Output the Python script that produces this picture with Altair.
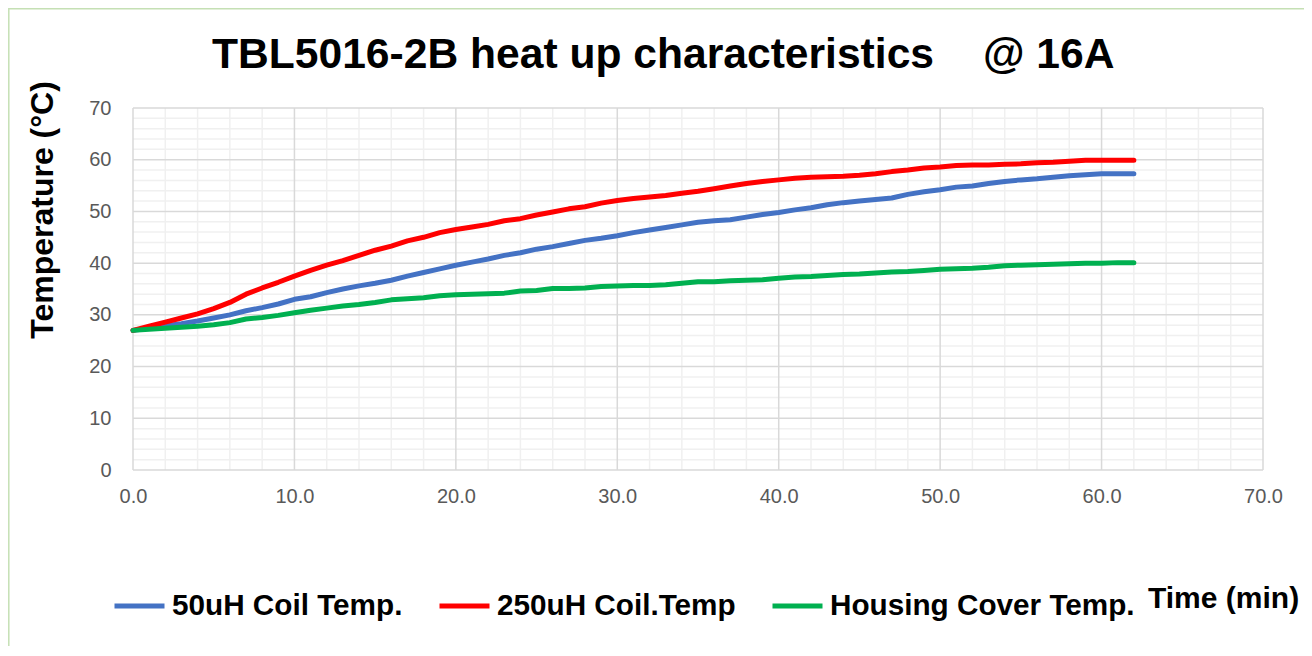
import altair as alt
import pandas as pd
import numpy as np

# ---------------- data ----------------
time_min = list(range(0, 63))

coil_50uH = [27.0, 27.4, 27.9, 28.3, 28.8, 29.4, 30.0, 30.8, 31.4, 32.1,
             33.0, 33.5, 34.3, 35.0, 35.6, 36.1, 36.7, 37.5, 38.2, 38.9,
             39.6, 40.2, 40.8, 41.5, 42.0, 42.7, 43.2, 43.8, 44.4, 44.8,
             45.3, 45.9, 46.4, 46.9, 47.4, 47.9, 48.2, 48.4, 48.9, 49.4,
             49.8, 50.3, 50.7, 51.3, 51.7, 52.0, 52.3, 52.6, 53.3, 53.8,
             54.2, 54.7, 54.9, 55.4, 55.8, 56.1, 56.3, 56.6, 56.9, 57.1,
             57.3, 57.3, 57.3]

coil_250uH = [27.0, 27.8, 28.6, 29.4, 30.2, 31.2, 32.4, 34.0, 35.2, 36.3,
              37.5, 38.6, 39.6, 40.5, 41.5, 42.5, 43.3, 44.3, 45.0, 45.9,
              46.5, 47.0, 47.5, 48.2, 48.6, 49.3, 49.9, 50.5, 50.9, 51.6,
              52.1, 52.5, 52.8, 53.1, 53.5, 53.9, 54.4, 54.9, 55.4, 55.8,
              56.1, 56.4, 56.6, 56.7, 56.8, 57.0, 57.3, 57.7, 58.0, 58.4,
              58.6, 58.9, 59.0, 59.0, 59.1, 59.2, 59.4, 59.5, 59.7, 59.9,
              59.9, 59.9, 59.9]

housing_cover = [27.0, 27.2, 27.4, 27.6, 27.8, 28.1, 28.5, 29.2, 29.5, 29.9,
                 30.4, 30.9, 31.3, 31.7, 32.0, 32.4, 32.9, 33.1, 33.3, 33.7,
                 33.9, 34.0, 34.1, 34.2, 34.6, 34.7, 35.1, 35.1, 35.2, 35.5,
                 35.6, 35.7, 35.7, 35.8, 36.1, 36.4, 36.4, 36.6, 36.7, 36.8,
                 37.1, 37.3, 37.4, 37.6, 37.8, 37.9, 38.1, 38.3, 38.4, 38.6,
                 38.8, 38.9, 39.0, 39.2, 39.5, 39.6, 39.7, 39.8, 39.9, 40.0,
                 40.0, 40.1, 40.1]

series_names = ["50uH Coil Temp.", "250uH Coil.Temp", "Housing Cover Temp."]
series_colors = ["#4472C4", "#FF0000", "#00B050"]

title_main = "TBL5016-2B heat up characteristics"
title_tail = "@ 16A"
y_title = "Temperature (°C)"
x_title = "Time (min)"

major_ticks = [0, 10, 20, 30, 40, 50, 60, 70]
minor_ticks = [2, 4, 6, 8, 12, 14, 16, 18, 22, 24, 26, 28, 32, 34, 36, 38,
               42, 44, 46, 48, 52, 54, 56, 58, 62, 64, 66, 68]

# ---------------- tables ----------------
rows = []
for name, vals in zip(series_names, [coil_50uH, coil_250uH, housing_cover]):
    for t, v in zip(time_min, vals):
        rows.append({"time": t, "temp": v, "series": name})
df = pd.DataFrame(rows)

minor_df = pd.DataFrame({"v": minor_ticks})
major_df = pd.DataFrame({"v": major_ticks})

FONT = "Liberation Sans"
xscale = alt.Scale(domain=[0, 70], nice=False, zero=False)
yscale = alt.Scale(domain=[0, 70], nice=False)

# ---------------- grid ----------------
minor_v = alt.Chart(minor_df).mark_rule(color="#F0F0F0", strokeWidth=1.5).encode(
    x=alt.X("v:Q", scale=xscale))
minor_h = alt.Chart(minor_df).mark_rule(color="#F0F0F0", strokeWidth=1.5).encode(
    y=alt.Y("v:Q", scale=yscale))
major_v = alt.Chart(major_df).mark_rule(color="#D9D9D9", strokeWidth=1.5).encode(
    x=alt.X("v:Q", scale=xscale))
major_h = alt.Chart(major_df).mark_rule(color="#D9D9D9", strokeWidth=1.5).encode(
    y=alt.Y("v:Q", scale=yscale))

# ---------------- lines ----------------
lines = alt.Chart(df).mark_line(strokeWidth=5, strokeCap="round", strokeJoin="round").encode(
    x=alt.X("time:Q", scale=xscale,
            axis=alt.Axis(values=major_ticks, format=".1f", grid=False, ticks=False,
                          domain=False, title=None, labelFont=FONT, labelFontSize=20,
                          labelColor="#595959", labelPadding=16, labelFlush=False)),
    y=alt.Y("temp:Q", scale=yscale,
            axis=alt.Axis(values=major_ticks, grid=False, ticks=False, domain=False,
                          title=None, labelFont=FONT, labelFontSize=20,
                          labelColor="#595959", labelPadding=22, labelFlush=False)),
    color=alt.Color("series:N",
                    scale=alt.Scale(domain=series_names, range=series_colors),
                    sort=series_names,
                    legend=alt.Legend(orient="none", legendX=-21, legendY=470,
                                      direction="horizontal", title=None,
                                      symbolType="stroke", symbolStrokeWidth=5,
                                      symbolSize=2500, labelFont=FONT,
                                      labelFontSize=29.7, labelFontWeight="bold",
                                      labelColor="black", columnPadding=26,
                                      labelOffset=5, padding=0, labelLimit=500)),
    detail="series:N",
)

# ---------------- texts ----------------
t_main = alt.Chart(pd.DataFrame({"t": [title_main]})).mark_text(
    font=FONT, fontSize=42.6, fontWeight="bold", color="black", align="left",
    baseline="alphabetic").encode(text="t:N", x=alt.value(79), y=alt.value(-40))
t_tail = alt.Chart(pd.DataFrame({"t": [title_tail]})).mark_text(
    font=FONT, fontSize=42.6, fontWeight="bold", color="black", align="left",
    baseline="alphabetic").encode(text="t:N", x=alt.value(850), y=alt.value(-40))
t_y = alt.Chart(pd.DataFrame({"t": [y_title]})).mark_text(
    font=FONT, fontSize=32, fontWeight="bold", color="black", align="center",
    baseline="alphabetic", angle=270).encode(text="t:N", x=alt.value(-80), y=alt.value(102))
t_x = alt.Chart(pd.DataFrame({"t": [x_title]})).mark_text(
    font=FONT, fontSize=30, fontWeight="bold", color="black", align="left",
    baseline="alphabetic").encode(text="t:N", x=alt.value(1015), y=alt.value(500))

border = alt.Chart(pd.DataFrame({"a": [0]})).mark_rect(
    fill=None, stroke="#C5E0B4", strokeWidth=1.5).encode(
    x=alt.value(-124.2), x2=alt.value(1300), y=alt.value(-99.2), y2=alt.value(700))

chart = alt.layer(
    border, minor_v, minor_h, major_v, major_h, lines, t_main, t_tail, t_y, t_x
).properties(
    width=1130, height=362,
    padding={"left": 125, "top": 100, "right": 41, "bottom": 176},
    autosize=alt.AutoSizeParams(type="none"),
    background="white",
).configure_view(stroke=None)

chart.save("out.html", embed_options={"renderer": "svg", "actions": False})
